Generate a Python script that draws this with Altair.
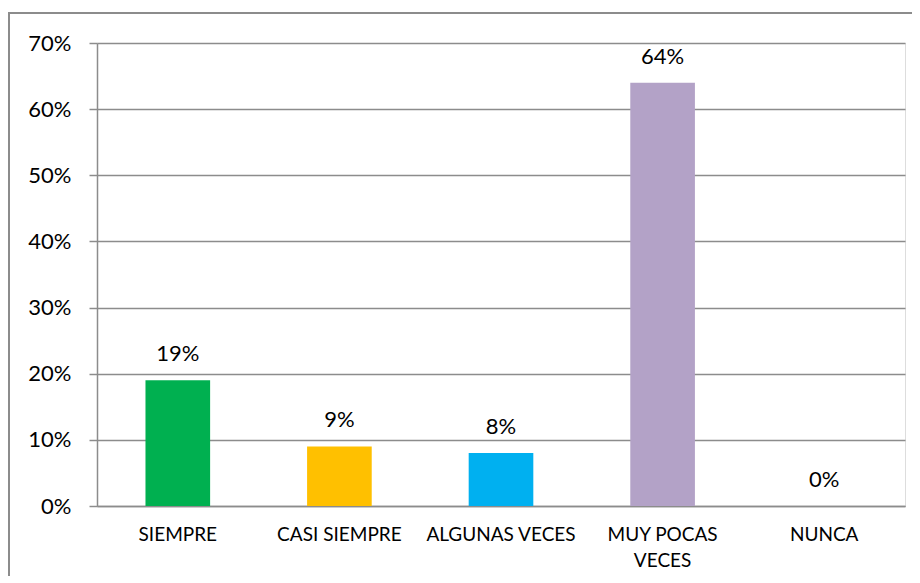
import altair as alt
import pandas as pd

categories = ["SIEMPRE", "CASI SIEMPRE", "ALGUNAS VECES", "MUY POCAS VECES", "NUNCA"]
values = [0.19, 0.09, 0.08, 0.64, 0.00]
colors = ["#00B050", "#FFC000", "#00B0F0", "#B3A2C7", "#7F7F7F"]
y_ticks = [0, 0.1, 0.2, 0.3, 0.4, 0.5, 0.6, 0.7]

df = pd.DataFrame({"cat": categories, "val": values})

FONT = "Lato"
GRAY = "#8C8C8C"

x_enc = alt.X(
    "cat:N",
    sort=categories,
    title=None,
    scale=alt.Scale(paddingInner=0.6, paddingOuter=0.3),
    axis=alt.Axis(
        labelAngle=0,
        labelFont=FONT,
        labelFontSize=19,
        labelColor="#000000",
        labelPadding=19,
        labelLineHeight=26,
        labelExpr="datum.label == 'MUY POCAS VECES' ? ['MUY POCAS', 'VECES'] : datum.label",
        ticks=False,
        domain=True,
        domainColor=GRAY,
        domainWidth=1.5,
        grid=False,
    ),
)

y_enc = alt.Y(
    "val:Q",
    title=None,
    scale=alt.Scale(domain=[0, 0.7], nice=False),
    axis=alt.Axis(
        values=y_ticks,
        format=".0%",
        labelFont=FONT,
        labelFontSize=22,
        labelColor="#000000",
        labelPadding=18,
        tickSize=8,
        tickColor=GRAY,
        tickWidth=1.5,
        domain=True,
        domainColor=GRAY,
        domainWidth=1.5,
        grid=True,
        gridColor=GRAY,
        gridWidth=1.5,
    ),
)

bars = alt.Chart(df).mark_bar().encode(
    x=x_enc,
    y=y_enc,
    color=alt.Color("cat:N", scale=alt.Scale(domain=categories, range=colors), legend=None),
)

labels = alt.Chart(df).mark_text(
    font=FONT, fontSize=22, color="#000000", baseline="middle", dy=-26
).encode(
    x=alt.X("cat:N", sort=categories),
    y=alt.Y("val:Q"),
    text=alt.Text("val:Q", format=".0%"),
)

border = alt.Chart(pd.DataFrame({"a": [0]})).mark_rect(
    fill=None, stroke=GRAY, strokeWidth=2
).encode(
    x=alt.value(-88), x2=alt.value(850), y=alt.value(-30), y2=alt.value(570)
)

chart = (
    alt.layer(border, bars, labels)
    .properties(
        width=808,
        height=463,
        autosize=alt.AutoSizeParams(type="none"),
        padding={"left": 89, "top": 35, "right": 7, "bottom": 70},
    )
    .configure_view(stroke=None)
    .configure(background="#FFFFFF")
)

chart.save("out.html", embed_options={"renderer": "svg", "actions": False})
